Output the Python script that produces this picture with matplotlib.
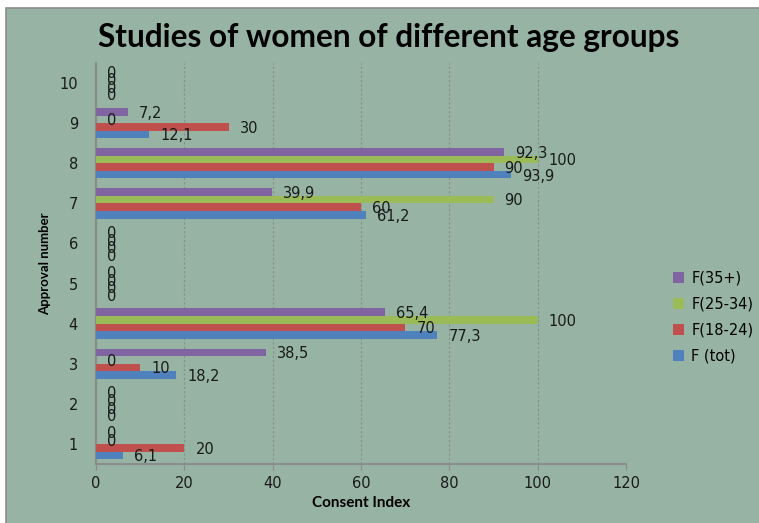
import matplotlib
matplotlib.use("Agg")
import matplotlib.pyplot as plt
import numpy as np
from matplotlib.patches import Rectangle

categories = [1, 2, 3, 4, 5, 6, 7, 8, 9, 10]
series_names = ["F (tot)", "F(18-24)", "F(25-34)", "F(35+)"]
f_tot = [6.1, 0, 18.2, 77.3, 0, 0, 61.2, 93.9, 12.1, 0]
f_18_24 = [20, 0, 10, 70, 0, 0, 60, 90, 30, 0]
f_25_34 = [0, 0, 0, 100, 0, 0, 90, 100, 0, 0]
f_35_plus = [0, 0, 38.5, 65.4, 0, 0, 39.9, 92.3, 7.2, 0]
x_ticks = [0, 20, 40, 60, 80, 100, 120]

series = [f_tot, f_18_24, f_25_34, f_35_plus]
colors = ["#4F81BD", "#C0504D", "#9BBB59", "#8064A2"]
bg = "#96B3A4"

fig = plt.figure(figsize=(7.59, 5.23), dpi=100)
fig.patch.set_facecolor("white")
# chart area panel with a thin grey border
panel = Rectangle((6 / 759, -0.01), 1 - 6 / 759 + 0.01, 1 - 8 / 523 + 0.01,
                  transform=fig.transFigure, facecolor=bg, edgecolor="#8C8C8C",
                  linewidth=1.2, zorder=-10)
fig.patches.append(panel)

ax = fig.add_axes([96 / 759, 1 - 464 / 523, (626 - 96) / 759, (464 - 63) / 523])
ax.set_facecolor(bg)

bar_h = 0.19
y = np.arange(len(categories))
offsets = (np.arange(4) - 1.5) * bar_h
for vals, col, name, off in zip(series, colors, series_names, offsets):
    ax.barh(y + off, vals, height=bar_h, color=col, label=name, zorder=3)
    for yy, v in zip(y + off, vals):
        txt = f"{v:g}".replace(".", ",")
        ax.annotate(txt, (v, yy), xytext=(8, -1), textcoords="offset points",
                    ha="left", va="center", fontsize=10.5, color="#1a1a1a",
                    family="DejaVu Sans", zorder=4)

ax.set_xlim(0, 120)
ax.set_ylim(-0.5, len(categories) - 0.5)
ax.set_xticks(x_ticks)
ax.set_yticks(y)
ax.set_yticklabels([str(c) for c in categories])
ax.tick_params(axis="x", labelsize=10.5, colors="#8C8C8C", labelcolor="#1a1a1a",
               direction="out", length=4, pad=5)
ax.tick_params(axis="y", labelsize=10.5, colors="#8C8C8C", labelcolor="#1a1a1a",
               direction="out", length=0, pad=13)
ax.grid(axis="x", color="#8C8C8C", linestyle=(0, (2, 2)), linewidth=0.8, zorder=1)
for side in ["top", "right"]:
    ax.spines[side].set_visible(False)
for side in ["left", "bottom"]:
    ax.spines[side].set_color("#8C8C8C")
    ax.spines[side].set_linewidth(1.5)

ax.set_xlabel("Consent Index", fontsize=11, fontweight="bold",
              family="Lato", labelpad=3)
ax.set_ylabel("Approval number", fontsize=9.5, fontweight="bold",
              family="Lato", labelpad=6)

fig.text(389 / 759, 1 - 37 / 523, "Studies of women of different age groups",
         ha="center", va="center", fontsize=22.8, fontweight="bold", family="Lato")

handles, labels = ax.get_legend_handles_labels()
fig.legend(handles[::-1], labels[::-1], loc="center left",
           bbox_to_anchor=(660 / 759, 1 - 317 / 523), frameon=False,
           fontsize=10.5, handlelength=0.75, handleheight=0.75,
           labelspacing=0.75, handletextpad=0.5)

fig.savefig("out.png", dpi=100, facecolor=fig.get_facecolor())
